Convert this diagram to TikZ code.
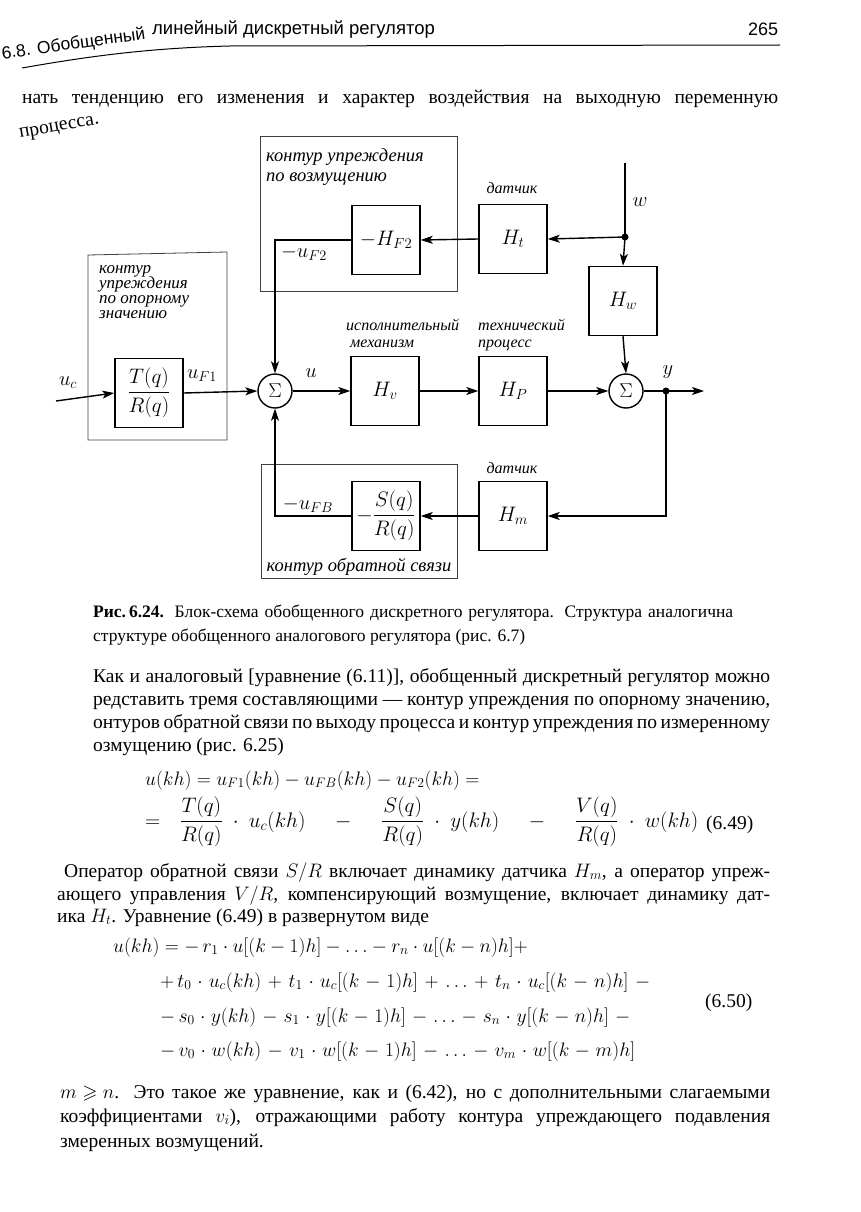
\RequirePackage{fix-cm}
\documentclass[tikz,border=0pt]{standalone}
\usepackage{amsmath,amssymb}
\usepackage{fontspec}
\setmainfont{Liberation Serif}
\setsansfont{Liberation Sans}
\usetikzlibrary{arrows.meta,calc}
\newcommand\jl[2]{\makebox[#1pt][s]{#2}}
\begin{document}
\begin{tikzpicture}[x=1pt,y=-1pt,
  blk/.style={draw,line width=1.5pt,minimum width=68pt,minimum height=69pt,inner sep=0pt,font=\fontsize{21}{24}\selectfont},
  grp/.style={draw,line width=0.8pt,black!75},
  sumc/.style={draw,circle,line width=1.4pt,minimum size=34pt,inner sep=0pt,font=\fontsize{20}{22}\selectfont},
  con/.style={line width=1.4pt},
  arr/.style={con,-{Stealth[length=12pt,width=8pt,inset=3pt]}},
  dotc/.style={circle,fill,inner sep=0pt,minimum size=7pt},
  lbl/.style={font=\fontsize{16}{16}\selectfont\itshape,inner sep=0pt},
  lblw/.style={lbl,anchor=base west},
  glbl/.style={font=\fontsize{18.5}{18}\selectfont\itshape,inner sep=0pt,anchor=base west},
  glbs/.style={glbl,font=\fontsize{17}{17}\selectfont\itshape},
  mlbl/.style={font=\fontsize{20.5}{22}\selectfont,inner sep=0pt},
  txt/.style={anchor=base west,inner sep=0pt,font=\fontsize{19.5}{22}\selectfont},
  captxt/.style={anchor=base west,inner sep=0pt,font=\fontsize{17.5}{20}\selectfont},
  eqf/.style={anchor=base west,inner sep=0pt,font=\fontsize{19.5}{23}\selectfont},
  hdr/.style={anchor=base west,inner sep=0pt,font=\sffamily\fontsize{18.5}{19}\selectfont},
]
\fill[white] (0,0) rectangle (860,1212);
\useasboundingbox (0,0) rectangle (860,1212);

% ---------- header ----------
\node[hdr,anchor=base east,rotate=8,font=\sffamily\fontsize{17.5}{18}\selectfont] (h1) at (146,39) {6.8. Обобщенный};
\node[hdr] (h2) at (152,35) {линейный дискретный регулятор};
\node[hdr,font=\sffamily\fontsize{18}{19}\selectfont] (pn) at (748,36) {265};
\draw[line width=1pt] (22,68) .. controls (90,56) and (150,48) .. (230,46) -- (780,45);

\node[txt] (t1) at (22,104) {\jl{756}{нать тенденцию его изменения и характер воздействия на выходную переменную}};
\node[txt,rotate=10] (t2) at (20,138) {процесса.};

% ---------- diagram: group boxes ----------
\draw[grp] (260,136) rectangle (457,291);
\draw[grp] (88,255) -- (227,252) -- (227,440) -- (88,440) -- cycle;
\draw[grp] (261,464) rectangle (457,578);

\node[glbl] (g1a) at (266,161) {контур упреждения};
\node[glbl] (g1b) at (266,181) {по возмущению};
\node[glbs] (g2a) at (99,273) {контур};
\node[glbs] (g2b) at (99,288) {упреждения};
\node[glbs] (g2c) at (99,303) {по опорному};
\node[glbs] (g2d) at (99,318) {значению};
\node[glbl,anchor=base] (g3) at (359,571) {контур обратной связи};

% ---------- blocks ----------
\node[blk] (HF2) at (386,240) {$-H_{F2}$};
\node[blk] (Ht)  at (513,239) {$H_t$};
\node[blk] (Hw)  at (623,301) {$H_w$};
\node[blk] (TR)  at (149,393) {$\dfrac{T(q)}{R(q)}$};
\node[blk] (Hv)  at (385,391) {$H_v$};
\node[blk] (Hp)  at (513,391) {$H_P$};
\node[blk] (SR)  at (386,516) {$-\dfrac{S(q)}{R(q)}$};
\node[blk] (Hm)  at (513,516) {$H_m$};
\node[sumc] (s1) at (275,391) {$\Sigma$};
\node[sumc] (s2) at (626,391) {$\Sigma$};

\node[lbl] (d1) at (512,188) {датчик};
\node[lbl] (d2) at (512,468) {датчик};
\node[lblw] (im1) at (346,330) {исполнительный};
\node[lblw] (im2) at (350,347) {механизм};
\node[lblw] (tp1) at (478,330) {технический};
\node[lblw] (tp2) at (478,347) {процесс};

% ---------- coordinates ----------
\node[dotc] (wd) at (625,237) {};
\coordinate (wt) at (625,163);
\node[dotc] (yd) at (666,391) {};
\coordinate (yo) at (704,391);
\coordinate (fb) at (666,516);
\coordinate (uc) at (56,401);

% ---------- connectors ----------
\draw[con] (wt) -- (wd.center);
\draw[arr] (wd.center) -- (Ht.east);
\draw[arr] (wd.center) -- (Hw.north);
\draw[arr] (Ht.west) -- (HF2.east);
\draw[arr] (HF2.west) -| (s1.north);
\draw[arr] (uc) -- (TR.west);
\draw[arr] (TR.east) -- (s1.west);
\draw[arr] (s1.east) -- (Hv.west);
\draw[arr] (Hv.east) -- (Hp.west);
\draw[arr] (Hp.east) -- (s2.west);
\draw[arr] (Hw.south) -- (s2.north);
\draw[arr] (s2.east) -- (yo);
\draw[arr] (yd.center) -- (fb) -- (Hm.east);
\draw[arr] (Hm.west) -- (SR.east);
\draw[arr] (SR.west) -| (s1.south);

% ---------- signal labels ----------
\node[mlbl] (lw) at (640,202) {$w$};
\node[mlbl] (lf2) at (304,253) {$-u_{F2}$};
\node[mlbl] (lf1) at (202,376) {$u_{F1}$};
\node[mlbl] (luc) at (68,383) {$u_c$};
\node[mlbl] (lu) at (311,373) {$u$};
\node[mlbl] (ly) at (668,372) {$y$};
\node[mlbl] (lfb) at (308,505) {$-u_{FB}$};

% ---------- caption ----------
\node[captxt] (c1) at (93,617) {\jl{640}{{\bfseries Рис.\,6.24.} Блок-схема обобщенного дискретного регулятора. Структура аналогична}};
\node[captxt] (c2) at (93,641) {структуре обобщенного аналогового регулятора (рис. 6.7)};

% ---------- paragraph 1 ----------
\node[txt] (p1) at (93,682) {\jl{677}{Как и аналоговый [уравнение (6.11)], обобщенный дискретный регулятор можно}};
\node[txt] (p2) at (93,705) {\jl{677}{редставить тремя составляющими~--- контур упреждения по опорному значению,}};
\node[txt] (p3) at (93,728) {\jl{677}{онтуров обратной связи по выходу процесса и контур упреждения по измеренному}};
\node[txt] (p4) at (93,751) {озмущению (рис. 6.25)};

% ---------- equation 6.49 ----------
\node[eqf] (e1) at (145,785) {$u(kh) = u_{F1}(kh) - u_{FB}(kh) - u_{F2}(kh) =$};
\node[eqf,anchor=west,font=\fontsize{21}{25}\selectfont] (e2) at (145,822) {\jl{553}{$= \dfrac{T(q)}{R(q)}\cdot u_c(kh) \;-\; \dfrac{S(q)}{R(q)}\cdot y(kh) \;-\; \dfrac{V(q)}{R(q)}\cdot w(kh)$}};
\node[txt] (n1) at (706,829) {(6.49)};

% ---------- paragraph 2 ----------
\node[txt] (q1) at (64,877) {\jl{706}{Оператор обратной связи \mbox{$S/R$} включает динамику датчика \mbox{$H_m$}, а оператор упреж-}};
\node[txt] (q2) at (57,900) {\jl{713}{ающего управления \mbox{$V/R$}, компенсирующий возмущение, включает динамику дат-}};
\node[txt] (q3) at (57,922) {ика $H_t$. Уравнение (6.49) в развернутом виде};

% ---------- equation 6.50 ----------
\node[eqf] (f1) at (113,952) {$u(kh) = -\,r_1\cdot u[(k-1)h] - \ldots - r_n\cdot u[(k-n)h] +$};
\node[eqf] (f2) at (160,987) {\jl{490}{$+\,t_0\cdot u_c(kh)$ $+$ $t_1\cdot u_c[(k-1)h]$ $+$ $\ldots$ $+$ $t_n\cdot u_c[(k-n)h]$ $-$}};
\node[eqf] (f3) at (160,1022) {\jl{470}{$-\,s_0\cdot y(kh)$ $-$ $s_1\cdot y[(k-1)h]$ $-$ $\ldots$ $-$ $s_n\cdot y[(k-n)h]$ $-$}};
\node[eqf] (f4) at (160,1056) {\jl{475}{$-\,v_0\cdot w(kh)$ $-$ $v_1\cdot w[(k-1)h]$ $-$ $\ldots$ $-$ $v_m\cdot w[(k-m)h]$}};
\node[txt] (n2) at (705,1007) {(6.50)};

% ---------- paragraph 3 ----------
\node[txt] (r1) at (60,1098) {\jl{710}{\mbox{$m \geqslant n$}. Это такое же уравнение, как и (6.42), но с дополнительными слагаемыми}};
\node[txt] (r2) at (60,1122) {\jl{710}{коэффициентами \mbox{$v_i$}), отражающими работу контура упреждающего подавления}};
\node[txt] (r3) at (60,1147) {змеренных возмущений.};
\end{tikzpicture}
\end{document}
